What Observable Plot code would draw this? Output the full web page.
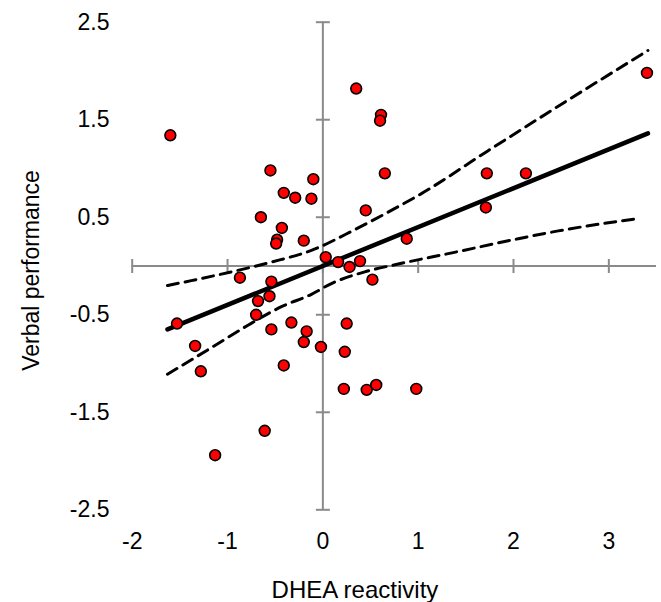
<!DOCTYPE html>
<html>
<head>
<meta charset="utf-8">
<script src="https://cdn.jsdelivr.net/npm/d3@7"></script>
<script src="https://cdn.jsdelivr.net/npm/@observablehq/plot@0.6"></script>
<style>
  html, body { margin: 0; padding: 0; background: #fff; }
  #chart svg { display: block; }
</style>
</head>
<body>
<div id="chart"></div>
<script>
// Axis ticks and labels
const xTicks = [-2, -1, 0, 1, 2, 3];
const xTickLabels = ["-2", "-1", "0", "1", "2", "3"];
const yTicks = [2.5, 1.5, 0.5, -0.5, -1.5, -2.5];
const yTickLabels = ["2.5", "1.5", "0.5", "-0.5", "-1.5", "-2.5"];
const xTitle = "DHEA reactivity";
const yTitle = "Verbal performance";

// Observations (DHEA reactivity, verbal performance)
const dheaX = [-1.60, 0.35, 0.61, 0.60, 0.65, -0.55, -0.10, -0.41, -0.29, -0.12,
               0.45, -0.65, -0.43, -0.48, -0.49, -0.20, 0.03, 0.16, 0.28, 0.39,
               -0.87, -0.54, 0.52, 3.40, 1.72, 2.13, 1.71, 0.88, -0.56, -0.68,
               -1.53, -0.70, -0.54, -0.33, -0.17, -0.20, -0.02, 0.25, 0.23, -1.34,
               -1.28, -0.41, 0.22, 0.46, 0.56, -0.61, -1.13, 0.98];
const verbalY = [1.34, 1.82, 1.55, 1.49, 0.95, 0.98, 0.89, 0.75, 0.70, 0.69,
                 0.57, 0.50, 0.39, 0.27, 0.23, 0.26, 0.09, 0.04, -0.01, 0.05,
                 -0.12, -0.16, -0.14, 1.98, 0.95, 0.95, 0.60, 0.28, -0.31, -0.36,
                 -0.59, -0.50, -0.65, -0.58, -0.67, -0.78, -0.83, -0.59, -0.88, -0.82,
                 -1.08, -1.02, -1.26, -1.27, -1.22, -1.69, -1.94, -1.26];

// Fitted regression line
const fitX = [-1.63, 3.41];
const fitY = [-0.65, 1.36];

// Confidence band (upper and lower dashed curves)
const upperX = [-1.63, -1.38, -0.96, -0.54, -0.12, 0.33, 0.68, 1.03, 1.73, 2.57, 3.41];
const upperY = [-0.20, -0.15, -0.06, 0.04, 0.16, 0.37, 0.55, 0.74, 1.18, 1.70, 2.21];
const lowerX = [-1.63, -1.14, -0.79, -0.44, -0.12, 0.09, 0.44, 0.79, 1.38, 2.05, 2.47, 3.33];
const lowerY = [-1.11, -0.82, -0.61, -0.42, -0.29, -0.18, -0.06, 0.02, 0.14, 0.28, 0.36, 0.49];

const points = dheaX.map((x, i) => ({x, y: verbalY[i]}));
const fit = fitX.map((x, i) => ({x, y: fitY[i]}));
const upper = upperX.map((x, i) => ({x, y: upperY[i]}));
const lower = lowerX.map((x, i) => ({x, y: lowerY[i]}));

const axisColor = "#8a8a8a";
const vTick = {draw(ctx) { ctx.moveTo(0, -7); ctx.lineTo(0, 7); }};
const hTick = {draw(ctx) { ctx.moveTo(-7, 0); ctx.lineTo(7, 0); }};
const font = "'Liberation Sans', Arial, sans-serif";

const chart = Plot.plot({
  width: 661,
  height: 602,
  marginLeft: 131.7,
  marginRight: 5,
  marginTop: 21.7,
  marginBottom: 92.7,
  style: {fontFamily: font, background: "#fff", color: "#000"},
  x: {domain: [-2, 3.5], axis: null},
  y: {domain: [-2.5, 2.5], axis: null},
  marks: [
    // axes crossing at origin
    Plot.ruleY([0], {x1: -2, x2: 3.5, stroke: axisColor, strokeWidth: 2}),
    Plot.ruleX([0], {y1: -2.5, y2: 2.5, stroke: axisColor, strokeWidth: 2}),
    Plot.dot(xTicks, {x: d => d, y: 0, symbol: vTick, r: 7, fill: "none", stroke: axisColor, strokeWidth: 2}),
    Plot.dot(yTicks, {x: 0, y: d => d, symbol: hTick, r: 7, fill: "none", stroke: axisColor, strokeWidth: 2}),
    // tick labels
    Plot.text(xTicks, {x: d => d, y: -2.5, text: (d, i) => xTickLabels[i], dy: 32, lineAnchor: "middle", fontSize: 23, fill: "#000"}),
    Plot.text(yTicks, {x: -2, y: d => d, text: (d, i) => yTickLabels[i], dx: -22.7, textAnchor: "end", lineAnchor: "middle", fontSize: 23, fill: "#000"}),
    // axis titles
    Plot.text([xTitle], {frameAnchor: "bottom", text: d => d, dx: -39.4, dy: 88.4, textAnchor: "middle", lineAnchor: "bottom", fontSize: 24, fill: "#000"}),
    Plot.text([yTitle], {frameAnchor: "left", text: d => d, rotate: -90, dx: -101, dy: 4.5, textAnchor: "middle", lineAnchor: "middle", fontSize: 23, fill: "#000"}),
    // confidence band
    Plot.line(upper, {x: "x", y: "y", curve: "monotone-x", stroke: "#000", strokeWidth: 3, strokeDasharray: "11,7"}),
    Plot.line(lower, {x: "x", y: "y", curve: "monotone-x", stroke: "#000", strokeWidth: 3, strokeDasharray: "11,7"}),
    // regression line
    Plot.line(fit, {x: "x", y: "y", stroke: "#000", strokeWidth: 4.5}),
    // observations
    Plot.dot(points, {x: "x", y: "y", r: 5.4, fill: "#ff0000", stroke: "#000", strokeWidth: 1.6})
  ]
});
document.getElementById("chart").appendChild(chart);
</script>
</body>
</html>
